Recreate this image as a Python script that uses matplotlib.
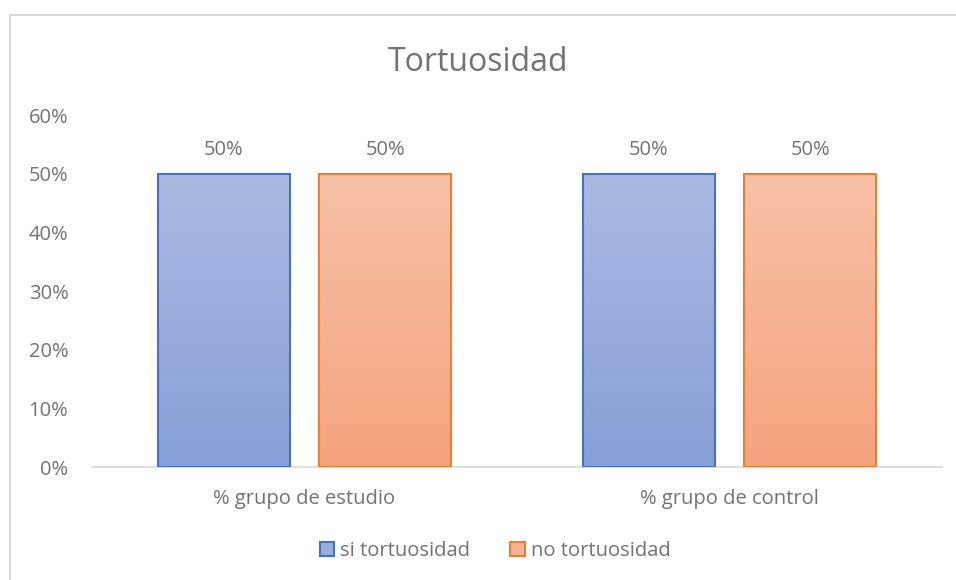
import numpy as np
import matplotlib.pyplot as plt
from matplotlib.lines import Line2D

categories = ["% grupo de estudio", "% grupo de control"]
si_tortuosidad = [0.50, 0.50]
no_tortuosidad = [0.50, 0.50]
series_names = ["si tortuosidad", "no tortuosidad"]
y_ticks = [0, 0.1, 0.2, 0.3, 0.4, 0.5, 0.6]

plt.rcParams['font.family'] = ['Open Sans', 'DejaVu Sans']
txt = '#737373'
fs = 14.5

fig = plt.figure(figsize=(9.56, 5.8), dpi=100)
ax = fig.add_axes([0.0962, 0.1948, 0.889, 0.6069])

x = np.arange(len(categories))
w = 0.31
off = 0.19

def grad_bars(vals, pos, top, bottom, edge, label):
    bars = ax.bar(pos, vals, w, facecolor='none', edgecolor=edge, linewidth=1.5,
                  label=label, zorder=3)
    cmap = plt.matplotlib.colors.LinearSegmentedColormap.from_list('g', [bottom, top])
    grad = np.linspace(0, 1, 256).reshape(-1, 1)
    for b in bars:
        ax.imshow(grad, cmap=cmap, origin='lower', aspect='auto', zorder=2,
                  extent=[b.get_x(), b.get_x() + b.get_width(), 0, b.get_height()])
    for b, v in zip(bars, vals):
        ax.text(b.get_x() + b.get_width() / 2, v + 0.024, f"{v:.0%}",
                ha='center', va='bottom', fontsize=fs, color=txt)
    return bars

b1 = grad_bars(si_tortuosidad, x - off, '#AABAE2', '#889FD7', '#4472C4', series_names[0])
b2 = grad_bars(no_tortuosidad, x + off, '#F8C1A8', '#F5A37D', '#ED7D31', series_names[1])

ax.set_xlim(-0.5, 1.5)
ax.set_ylim(0, 0.6)
ax.set_yticks(y_ticks)
ax.set_yticklabels([f"{t:.0%}" for t in y_ticks])
ax.set_xticks(x)
ax.set_xticklabels(categories)
ax.tick_params(length=0, labelsize=fs, colors=txt)
ax.tick_params(axis='y', pad=17)
ax.tick_params(axis='x', pad=16)
for s in ['top', 'right', 'left']:
    ax.spines[s].set_visible(False)
ax.spines['bottom'].set_color('#D9D9D9')
ax.spines['bottom'].set_linewidth(1.2)

fig.text(0.5, 0.893, "Tortuosidad", ha='center', va='center', fontsize=23, color=txt)

leg = fig.legend(handles=[b1, b2], labels=series_names, loc='center',
                 bbox_to_anchor=(0.518, 0.05), ncol=2, frameon=False,
                 fontsize=fs, handlelength=0.7, handleheight=0.7,
                 handletextpad=0.3, columnspacing=2.0)
for t in leg.get_texts():
    t.set_color(txt)
for h, c in zip(leg.legend_handles, ['#9AADDD', '#F6B293']):
    h.set_facecolor(c)

fig.add_artist(Line2D([10 / 956, 1], [1 - 15 / 580] * 2, color='#D9D9D9', lw=1.5))
fig.add_artist(Line2D([10 / 956] * 2, [0, 1 - 15 / 580], color='#D9D9D9', lw=1.5))

fig.savefig('out.png', dpi=100)
